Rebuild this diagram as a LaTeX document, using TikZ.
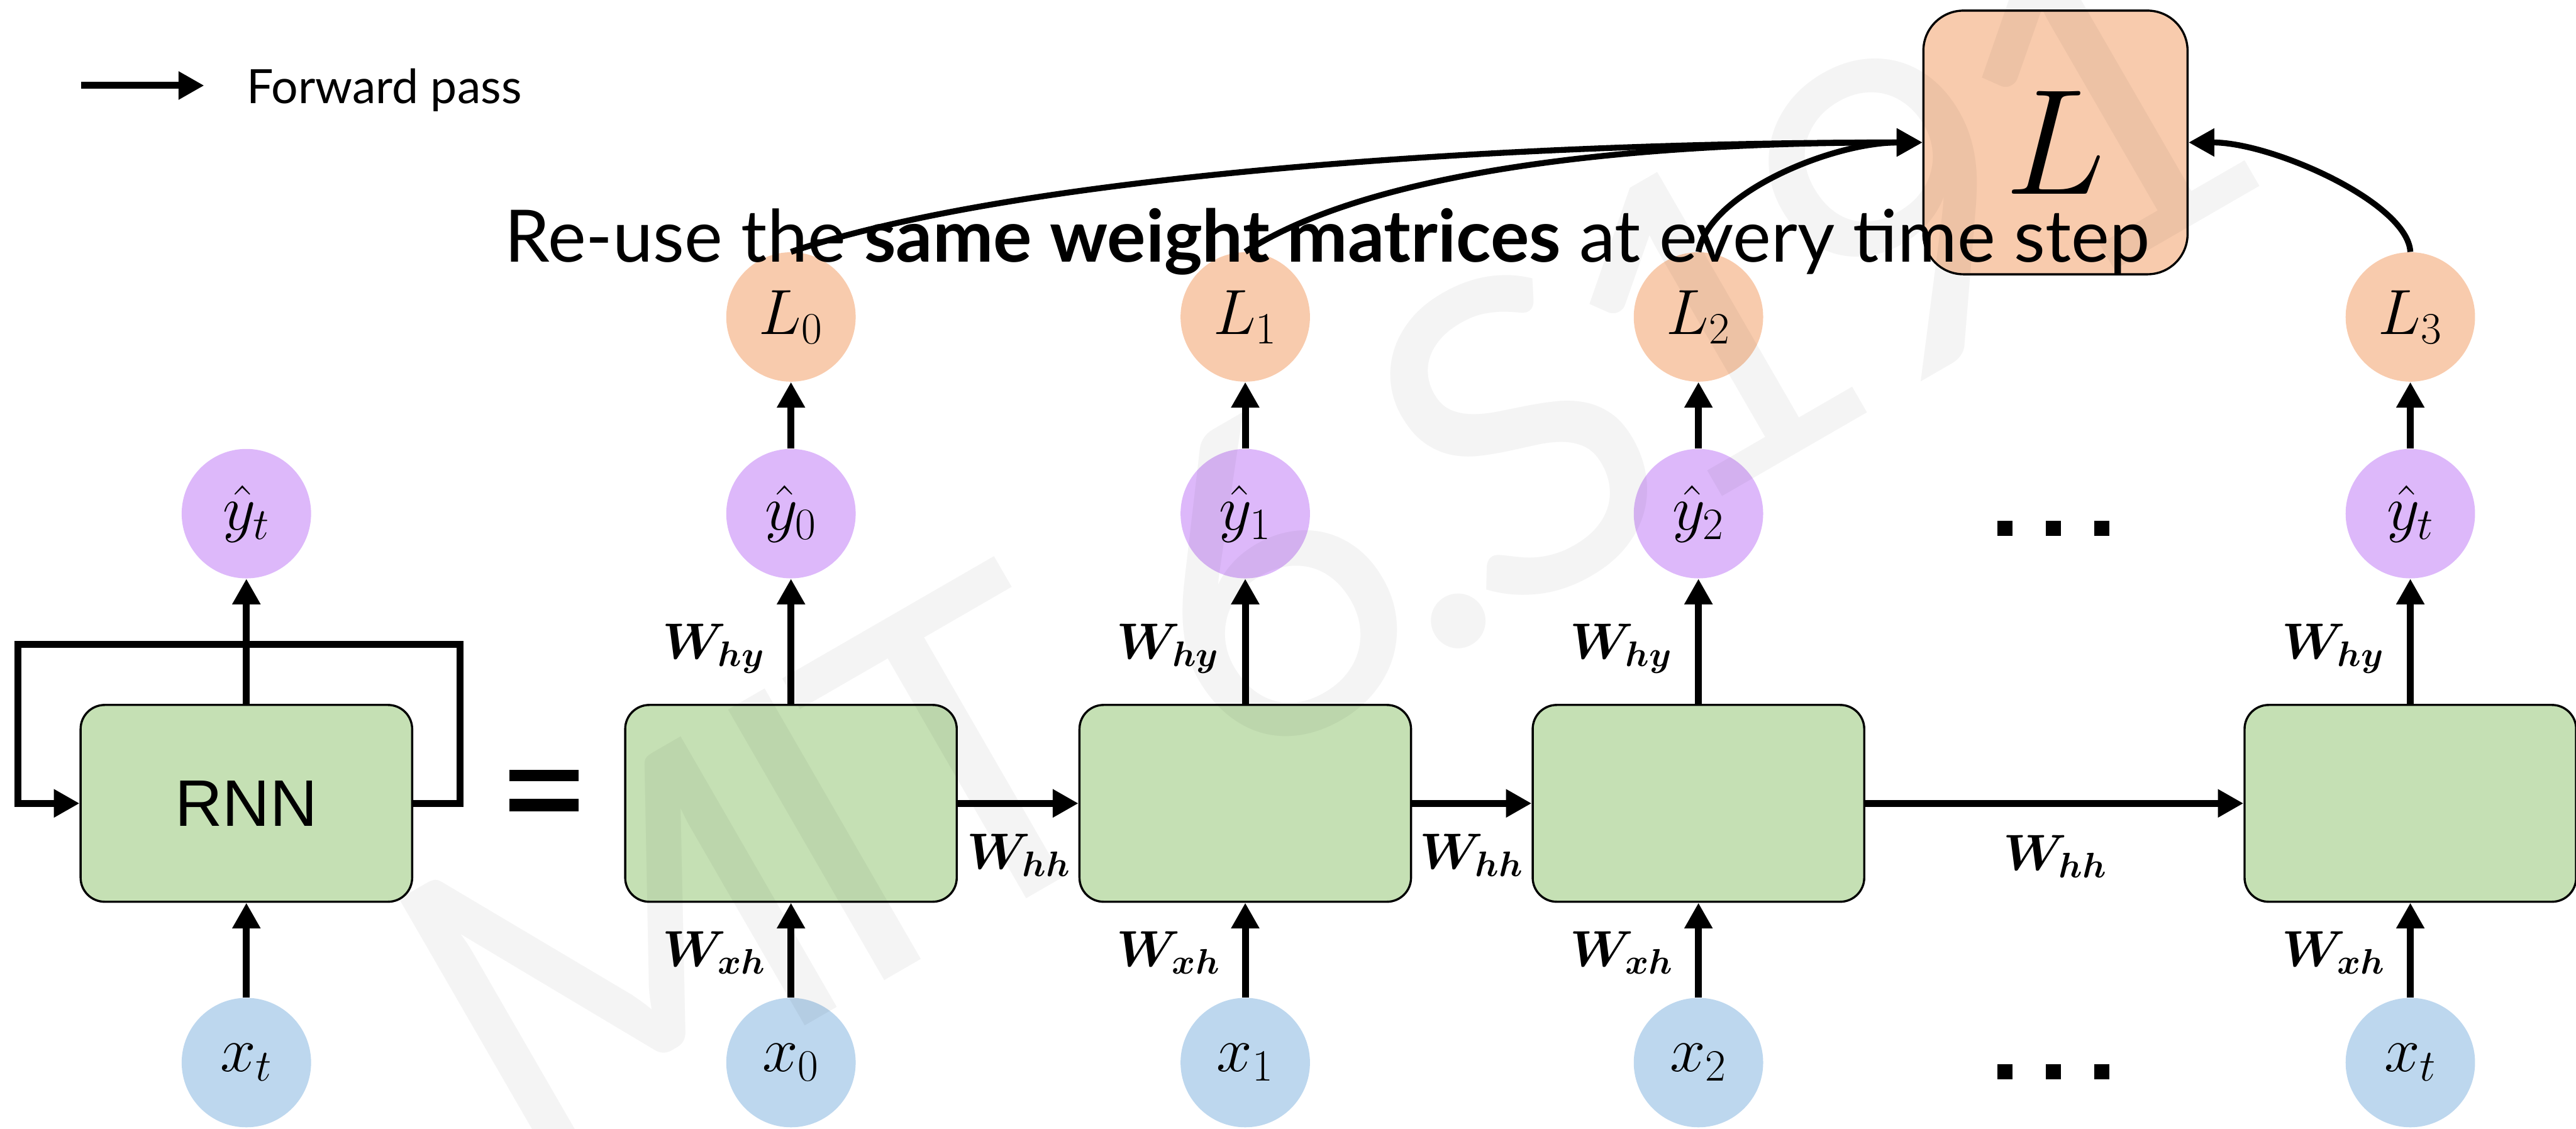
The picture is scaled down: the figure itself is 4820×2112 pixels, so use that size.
\RequirePackage{fix-cm}
\documentclass[tikz,border=0pt]{standalone}
\usepackage{fontspec}
\usepackage{bm}
\usetikzlibrary{arrows.meta}
\newfontfamily\latofont{Lato}
\newfontfamily\wmfont[LetterSpace=-6]{Lato}
\newfontfamily\arialfont{Liberation Sans}
\definecolor{boxgreen}{HTML}{C5E0B4}
\definecolor{ypurple}{HTML}{DDB8FA}
\definecolor{lpeach}{HTML}{F8CBAD}
\definecolor{xblue}{HTML}{BDD7EE}
\tikzset{
  cell/.style={draw=black, line width=0.04cm, fill=boxgreen, rounded corners=0.45cm, minimum width=6.2cm, minimum height=3.68cm, inner sep=0pt},
  bub/.style={circle, minimum size=2.42cm, inner sep=0pt, font=\fontsize{34}{40}\selectfont},
  ybub/.style={bub, fill=ypurple},
  lbub/.style={bub, fill=lpeach},
  xbub/.style={bub, fill=xblue},
  wlab/.style={inner sep=0pt, font=\fontsize{27}{32}\selectfont},
  arr/.style={line width=0.13cm, -{Triangle[length=0.48cm,width=0.5cm]}},
  curv/.style={line width=0.11cm, -{Triangle[length=0.48cm,width=0.5cm]}},
  dotsq/.style={fill=black, minimum size=0.28cm, inner sep=0pt},
}
\begin{document}
\begin{tikzpicture}[x=0.01cm, y=-0.01cm]
\useasboundingbox (0,0) rectangle (4820,2112);

% legend
\coordinate (legA) at (152,160);
\coordinate (legB) at (382,160);
\draw[arr] (legA) -- (legB);
\node[anchor=base west, inner sep=0pt] (legtxt) at (461,193) {\resizebox{5.14cm}{!}{\latofont Forward pass}};

% folded RNN
\node[cell, font=\arialfont\fontsize{35}{40}\selectfont] (rnn) at (461,1503) {RNN};
\node[ybub] (yL) at (461,961) {$\hat{y}_t$};
\node[xbub] (xL) at (461,1988) {$x_t$};
\coordinate (lpa) at (861,1503);
\coordinate (lpb) at (861,1206);
\coordinate (lpc) at (34,1206);
\coordinate (lpd) at (34,1503);
\draw[arr] (rnn.east) -- (lpa) -- (lpb) -- (lpc) -- (lpd) -- (rnn.west);
\draw[arr] (xL) -- (rnn);
\draw[arr] (rnn) -- (yL);

% equals sign
\fill (953,1440) rectangle (1083,1461);
\fill (953,1495) rectangle (1083,1518);

% unrolled cells
\foreach \i/\cx in {0/1480,1/2330,2/3178}{
  \node[cell] (h\i) at (\cx,1503) {};
  \node[ybub] (y\i) at (\cx,961) {$\hat{y}_{\i}$};
  \node[lbub] (l\i) at (\cx,593) {$L_{\i}$};
  \node[xbub] (x\i) at (\cx,1988) {$x_{\i}$};
}
\node[cell] (h3) at (4510,1503) {};
\node[ybub] (y3) at (4510,961) {$\hat{y}_t$};
\node[lbub] (l3) at (4510,593) {$L_3$};
\node[xbub] (x3) at (4510,1988) {$x_t$};

\foreach \i/\cx in {0/1480,1/2330,2/3178,3/4510}{
  \draw[arr] (x\i) -- (h\i);
  \draw[arr] (h\i) -- (y\i);
  \draw[arr] (y\i) -- (l\i);
  \node[wlab, anchor=east] (why\i) at (\cx-48,1214) {$\bm{W_{hy}}$};
  \node[wlab, anchor=east] (wxh\i) at (\cx-46,1783) {$\bm{W_{xh}}$};
}
\draw[arr] (h0) -- (h1);
\draw[arr] (h1) -- (h2);
\draw[arr] (h2) -- (h3);
\node[wlab] (whh0) at (1906,1600) {$\bm{W_{hh}}$};
\node[wlab] (whh1) at (2754,1600) {$\bm{W_{hh}}$};
\node[wlab] (whh2) at (3846,1603) {$\bm{W_{hh}}$};

% dots
\foreach \dx in {3751,3842,3933}{
  \node[dotsq] at (\dx,988) {};
  \node[dotsq] at (\dx,2005) {};
}

% total loss
\node[draw=black, line width=0.04cm, fill=lpeach, rounded corners=0.75cm, minimum width=4.94cm, minimum height=4.93cm, inner sep=0pt, font=\fontsize{80}{90}\selectfont] (Lbig) at (3846,266.5) {$L$};

% title
\node[anchor=base west, inner sep=0pt] (title) at (944,490) {\resizebox{30.76cm}{!}{\latofont Re-use the \textbf{same weight matrices} at every time step}};

% curves into L
\draw[curv] (l0.north) .. controls +(420,-142) and +(-800,0) .. (Lbig.west);
\draw[curv] (l1.north) .. controls +(220,-142) and +(-600,0) .. (Lbig.west);
\draw[curv] (l2.north) .. controls +(20,-110) and +(-170,0) .. (Lbig.west);
\draw[curv] (l3.north) .. controls +(-5,-92) and +(157,0) .. (Lbig.east);

% watermark
\begin{scope}
\clip (0,0) rectangle (4820,2112);
\node[rotate=30, text=black, text opacity=0.045, inner sep=0pt, font=\wmfont\fontsize{232}{240}\selectfont] (wm) at (2480,1020) {MIT 6.S191};
\end{scope}
\end{tikzpicture}
\end{document}
